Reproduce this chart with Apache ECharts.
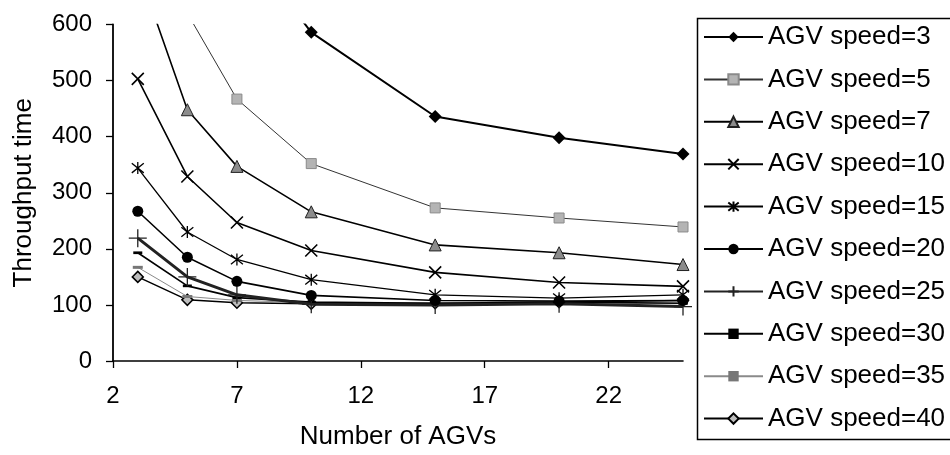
<!DOCTYPE html>
<html>
<head>
<meta charset="utf-8">
<script src="https://cdn.jsdelivr.net/npm/echarts@6/dist/echarts.min.js"></script>
<style>
html,body{margin:0;padding:0;background:#fff;}
#chart{width:950px;height:455px;}
</style>
</head>
<body>
<div id="chart"></div>
<script>
// ---- data ----
const agvCounts = [3, 5, 7, 10, 15, 20, 25];
const xTicks = [2, 7, 12, 17, 22];
const yTicks = [0, 100, 200, 300, 400, 500, 600];
const seriesNames = ['AGV speed=3','AGV speed=5','AGV speed=7','AGV speed=10','AGV speed=15','AGV speed=20','AGV speed=25','AGV speed=30','AGV speed=35','AGV speed=40'];
const speed3  = [1500, 1000, 760, 586, 436, 398, 369];
const speed5  = [1100, 620, 467, 352, 273, 255, 239];
const speed7  = [700, 448, 347, 266, 207, 193, 172];
const speed10 = [503, 329, 247, 197, 158, 140, 133];
const speed15 = [344, 230, 181, 145, 118, 112, 118];
const speed20 = [267, 185, 142, 117, 108, 107, 108];
const speed25 = [219, 150, 118, 101, 100, 102, 97];
const speed30 = [193, 134, 113, 105, 103, 105, 103];
const speed35 = [167, 115, 108, 104, 104, 104, 103];
const speed40 = [150, 109, 104, 102, 103, 105, 108];
const allValues = [speed3, speed5, speed7, speed10, speed15, speed20, speed25, speed30, speed35, speed40];

// ---- styles ----
const FONT = '"Liberation Sans", Arial, sans-serif';
const styles = [
  {symbol:'diamond', size:13, item:{color:'#000'}, line:{color:'#000', width:2}},
  {symbol:'rect', size:10, item:{color:'#b4b4b4', borderColor:'#8a8a8a', borderWidth:1}, line:{color:'#333', width:1}},
  {symbol:'triangle', size:12, item:{color:'#8c8c8c', borderColor:'#222', borderWidth:1}, line:{color:'#000', width:1.6}},
  {symbol:'path://M0,0L10,10M10,0L0,10', size:12, item:{color:'none', borderColor:'#000', borderWidth:1.6}, line:{color:'#000', width:1.6}},
  {symbol:'path://M1,1L9,9M9,1L1,9M5,0L5,10', size:12, item:{color:'none', borderColor:'#000', borderWidth:1.3}, line:{color:'#000', width:1.3}},
  {symbol:'circle', size:11, item:{color:'#000'}, line:{color:'#000', width:1.6}},
  {symbol:'path://M5,0L5,10M0,5L10,5', size:18, item:{color:'none', borderColor:'#222', borderWidth:1.3}, line:{color:'#222', width:3}},
  {symbol:'path://M0,0L10,0L10,3L0,3Z', size:9, keep:true, item:{color:'#000'}, line:{color:'#000', width:1.6}},
  {symbol:'path://M0,0L10,0L10,3L0,3Z', size:10, keep:true, item:{color:'#777'}, line:{color:'#8a8a8a', width:1}},
  {symbol:'diamond', size:11, item:{color:'#bdbdbd', borderColor:'#000', borderWidth:1.5}, line:{color:'#000', width:1.5}}
];

const series = seriesNames.map((name, i) => ({
  name: name,
  type: 'line',
  data: agvCounts.map((x, j) => [x, allValues[i][j]]),
  symbol: styles[i].symbol,
  symbolSize: styles[i].size,
  symbolKeepAspect: !!styles[i].keep,
  showAllSymbol: true,
  clip: true,
  itemStyle: styles[i].item,
  lineStyle: styles[i].line,
  emphasis: {disabled: true},
  z: 10 - i
}));

const chart = echarts.init(document.getElementById('chart'), null, {renderer:'canvas'});
chart.setOption({
  animation: false,
  backgroundColor: '#fff',
  grid: {left: 113, right: 267, top: 24.5, bottom: 93.5, containLabel: false},
  graphic: [{
    type: 'rect', left: 695, top: 16, z: 100, silent: true,
    shape: {width: 290, height: 421},
    style: {fill: 'none', stroke: '#000', lineWidth: 1.5}
  }],
  xAxis: {
    type: 'value', min: 2, max: 25, interval: 5,
    name: 'Number of AGVs', nameLocation: 'middle', nameGap: 63,
    nameTextStyle: {fontSize: 26, fontFamily: FONT, color: '#000'},
    axisLine: {show: true, lineStyle: {color: '#000', width: 1.6}},
    axisTick: {show: true, length: 7, inside: false, customValues: xTicks, lineStyle: {color: '#000', width: 1.3}},
    axisLabel: {customValues: xTicks, fontSize: 24, fontFamily: FONT, color: '#000', margin: 23},
    splitLine: {show: false}
  },
  yAxis: {
    type: 'value', min: 0, max: 600, interval: 100,
    name: 'Throughput time', nameLocation: 'middle', nameGap: 76, nameRotate: 90,
    nameTextStyle: {fontSize: 26, fontFamily: FONT, color: '#000'},
    axisLine: {show: true, lineStyle: {color: '#000', width: 1.8}},
    axisTick: {show: true, length: 7, inside: false, customValues: yTicks, lineStyle: {color: '#000', width: 1.3}},
    axisLabel: {customValues: yTicks, fontSize: 24, fontFamily: FONT, color: '#000', margin: 21},
    splitLine: {show: false}
  },
  legend: {
    orient: 'vertical', left: 695, top: 16,
    padding: [8, 10, 5, 8],
    itemGap: 16.4, itemWidth: 59, itemHeight: 13,
    borderWidth: 0, backgroundColor: 'transparent',
    textStyle: {fontSize: 26, fontFamily: FONT, color: '#000', lineHeight: 26},
    data: seriesNames
  },
  series: series
});
</script>
</body>
</html>
